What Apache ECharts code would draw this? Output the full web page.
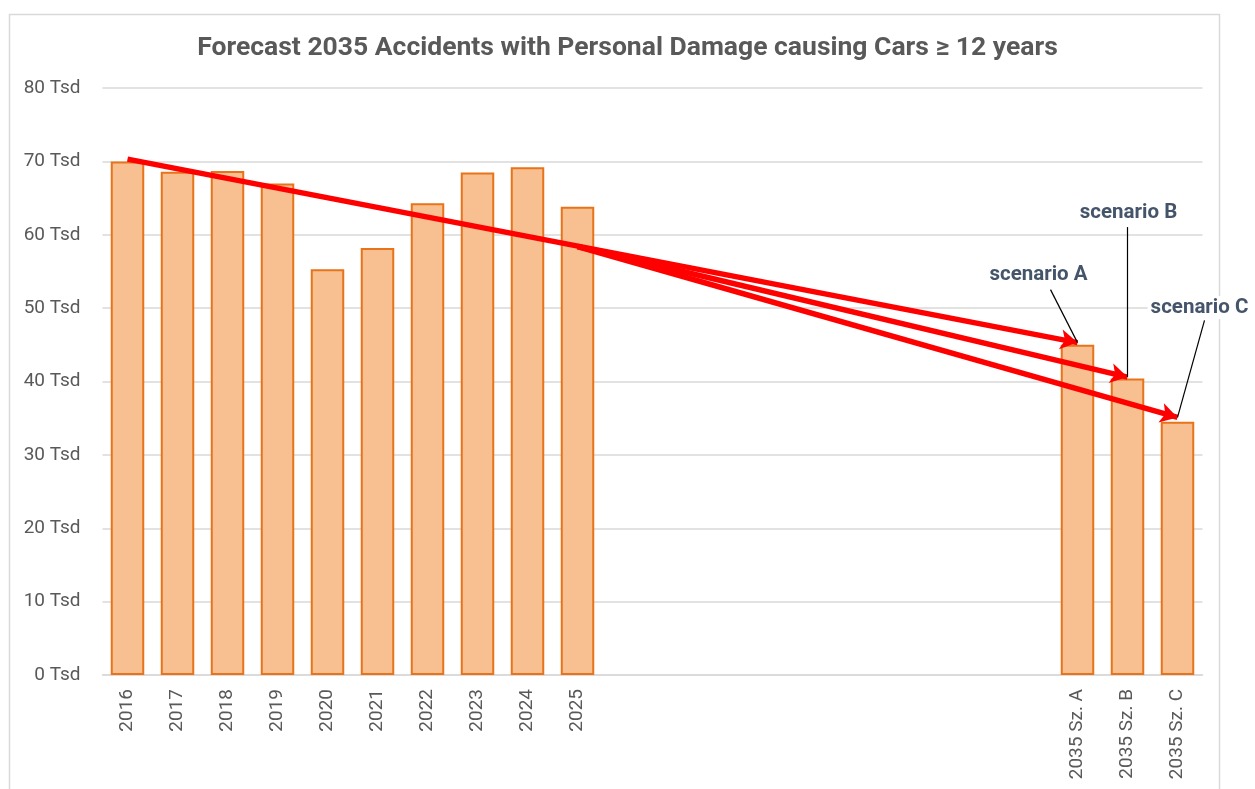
<!DOCTYPE html>
<html>
<head>
<meta charset="utf-8">
<script src="https://cdn.jsdelivr.net/npm/echarts@6/dist/echarts.min.js"></script>
<style>
  html, body { margin: 0; padding: 0; background: #fff; }
  #container { width: 1255px; height: 789px; }
</style>
</head>
<body>
<div id="container"></div>
<script>
// chart values (thousands)
const years = ["2016", "2017", "2018", "2019", "2020", "2021", "2022", "2023", "2024", "2025"];
const yearValues = [70.0, 68.6, 68.7, 67.0, 55.3, 58.2, 64.3, 68.5, 69.2, 63.8];
const gapCount = 9;
const scenarioCats = ["2035 Sz. A", "2035 Sz. B", "2035 Sz. C"];
const scenarioValues = [45.0, 40.4, 34.5];
const scenarioNames = ["scenario A", "scenario B", "scenario C"];
// trend arrows: A runs from 2016, B and C branch off the A line at 2025
const arrowStarts = [["2016", 70.3], ["2025", 58.4], ["2025", 58.4]];
const arrowEnds = [45.3, 40.6, 35.1];
const yTicks = [0, 10, 20, 30, 40, 50, 60, 70, 80];

const FONT = '"Liberation Sans Narrow", "Roboto", sans-serif';

const categories = years.concat(new Array(gapCount).fill(""), scenarioCats);
const values = yearValues.concat(new Array(gapCount).fill(null), scenarioValues);

const arrows = scenarioCats.map((c, i) => [
  { coord: arrowStarts[i] },
  { coord: [c, arrowEnds[i]] },
]);

const option = {
  animation: false,
  title: {
    text: "Forecast 2035 Accidents with Personal Damage causing Cars \u2265 12 years",
    left: "center",
    top: 30,
    textStyle: { fontFamily: FONT, fontSize: 26.5, fontWeight: "bold", color: "#595959" },
  },
  grid: { left: 102.5, right: 52.5, top: 88, bottom: 114 },
  xAxis: {
    type: "category",
    data: categories,
    axisLine: { lineStyle: { color: "#D9D9D9", width: 1.5 } },
    axisTick: { show: false },
    axisLabel: {
      rotate: 90,
      interval: 0,
      margin: 14,
      fontFamily: FONT,
      fontSize: 19,
      color: "#595959",
    },
  },
  yAxis: {
    type: "value",
    min: yTicks[0],
    max: yTicks[yTicks.length - 1],
    interval: 10,
    axisLine: { show: false },
    axisTick: { show: false },
    splitLine: { lineStyle: { color: "#D9D9D9", width: 1.5 } },
    axisLabel: {
      margin: 22,
      fontFamily: FONT,
      fontSize: 19,
      color: "#595959",
      formatter: "{value} Tsd",
    },
  },
  series: [
    {
      type: "bar",
      data: values,
      barCategoryGap: "33%",
      itemStyle: { color: "#F8C090", borderColor: "#E8731A", borderWidth: 2 },
      silent: true,
      markLine: {
        silent: true,
        symbol: ["none", "arrow"],
        symbolSize: [15, 17],
        label: { show: false },
        lineStyle: { color: "#FF0000", width: 5.5, type: "solid" },
        emphasis: { disabled: true },
        data: arrows,
      },
    },
  ],
  graphic: [
    {
      type: "rect",
      shape: { x: 9.5, y: 14.5, width: 1210, height: 800 },
      style: { fill: "none", stroke: "#D9D9D9", lineWidth: 1.5 },
      silent: true,
    },
  ],
};

const myChart = echarts.init(document.getElementById("container"));
myChart.setOption(option);

// callouts: leader lines anchored at arrow tips, label offsets in pixels
const calloutOffsets = [
  { line: [-27, -53], text: [-39, -68] },
  { line: [0, -150], text: [1, -164] },
  { line: [27, -97], text: [22, -110] },
];
const callouts = [];
scenarioCats.forEach((c, i) => {
  const p = myChart.convertToPixel({ seriesIndex: 0 }, [c, arrowEnds[i]]);
  const o = calloutOffsets[i];
  callouts.push({
    type: "line",
    silent: true,
    z: 10,
    shape: { x1: p[0], y1: p[1], x2: p[0] + o.line[0], y2: p[1] + o.line[1] },
    style: { stroke: "#000", lineWidth: 1.2 },
  });
  callouts.push({
    type: "text",
    silent: true,
    z: 11,
    x: p[0] + o.text[0],
    y: p[1] + o.text[1],
    style: {
      text: scenarioNames[i],
      fontFamily: FONT,
      fontSize: 20.5,
      fontWeight: "bold",
      fill: "#44546A",
      align: "center",
      verticalAlign: "middle",
      backgroundColor: "#fff",
      padding: [1, 3],
    },
  });
});
myChart.setOption({ graphic: option.graphic.concat(callouts) });
</script>
</body>
</html>
